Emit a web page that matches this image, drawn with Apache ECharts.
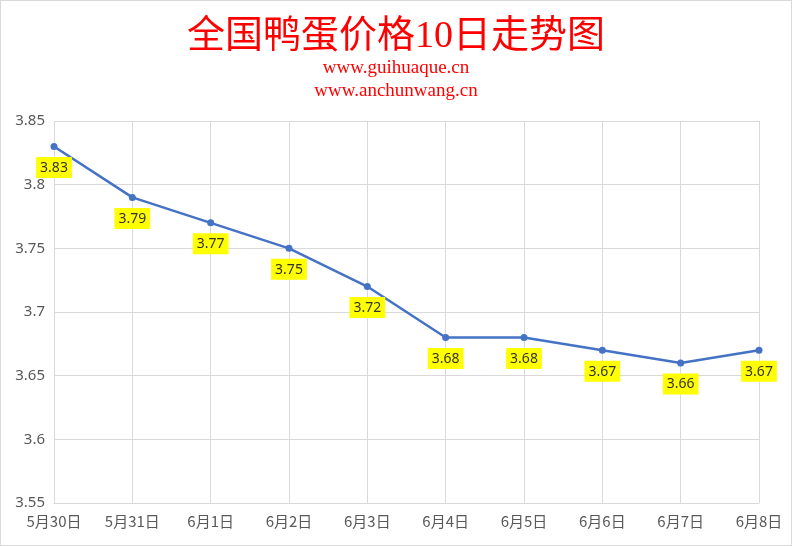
<!DOCTYPE html>
<html>
<head>
<meta charset="utf-8">
<script src="https://cdn.jsdelivr.net/npm/echarts@6/dist/echarts.min.js"></script>
<style>
html,body{margin:0;padding:0;background:#fff;}
#main{width:790px;height:544px;border:1px solid #d9d9d9;}
</style>
</head>
<body>
<div id="main"></div>
<script>
var categories = ['5月30日', '5月31日', '6月1日', '6月2日', '6月3日', '6月4日', '6月5日', '6月6日', '6月7日', '6月8日'];
var prices = [3.83, 3.79, 3.77, 3.75, 3.72, 3.68, 3.68, 3.67, 3.66, 3.67];
var yMin = 3.55, yMax = 3.85, yStep = 0.05;

var myChart = echarts.init(document.getElementById('main'));

var option = {
    backgroundColor: '#fff',
    title: [
        {
            text: '全国鸭蛋价格10日走势图',
            left: 'center',
            top: 12,
            textStyle: {color: '#ff0000', fontSize: 38, fontWeight: 'normal', fontFamily: '"Liberation Serif", "Noto Sans CJK SC", serif'}
        },
        {
            text: 'www.guihuaque.cn\nwww.anchunwang.cn',
            left: 'center',
            top: 51,
            textStyle: {color: '#ff0000', fontSize: 19, fontWeight: 'normal', lineHeight: 23, fontFamily: '"Liberation Serif", serif'}
        }
    ],
    grid: {left: 53, right: 32, top: 120, bottom: 42},
    xAxis: {
        type: 'category',
        data: categories,
        boundaryGap: false,
        axisLine: {lineStyle: {color: '#d9d9d9'}},
        axisTick: {show: false},
        axisLabel: {color: '#595959', fontSize: 15, margin: 11, fontFamily: '"Noto Sans CJK SC", sans-serif'},
        splitLine: {show: true, lineStyle: {color: '#d9d9d9'}}
    },
    yAxis: {
        type: 'value',
        min: yMin,
        max: yMax,
        interval: yStep,
        axisLine: {show: false},
        axisTick: {show: false},
        axisLabel: {color: '#595959', fontSize: 15, margin: 9, fontFamily: '"Noto Sans", sans-serif',
            formatter: function (v) { return String(parseFloat(v.toFixed(2))); }},
        splitLine: {lineStyle: {color: '#d9d9d9'}}
    },
    series: [{
        type: 'line',
        data: prices,
        symbol: 'circle',
        symbolSize: 7,
        lineStyle: {color: '#4472c4', width: 2.5},
        itemStyle: {color: '#4472c4'},
        label: {
            show: true,
            position: 'bottom',
            distance: 7,
            color: '#333',
            fontSize: 14,
            fontFamily: '"Noto Sans", sans-serif',
            backgroundColor: '#ffff00',
            padding: [4, 4, 3, 4],
            formatter: function (p) { return p.value.toFixed(2); }
        }
    }]
};

myChart.setOption(option);
window.addEventListener('resize', function () { myChart.resize(); });
</script>
</body>
</html>
